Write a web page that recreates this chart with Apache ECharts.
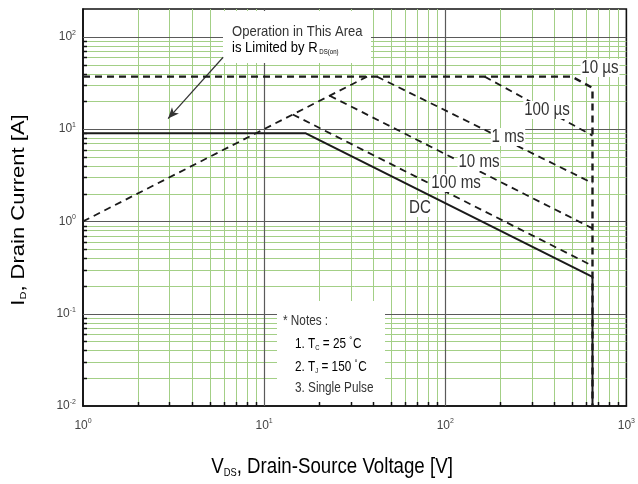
<!DOCTYPE html>
<html><head><meta charset="utf-8">
<script src="https://cdn.jsdelivr.net/npm/echarts@6/dist/echarts.min.js"></script>
<style>html,body{margin:0;padding:0;background:#fff}#c{width:638px;height:484px}</style>
</head><body><div id="c"></div>
<script>
// ---- data ----
const xDecades = [1, 10, 100, 1000];
const yDecades = [0.01, 0.1, 1, 10, 100];
const rdsLimit   = [[1, 1], [37, 37]];
const pulse10us  = [[1, 37], [500, 37], [650, 28], [650, 0.01]];
const pulse100us = [[165, 37], [650, 8.5]];
const pulse1ms   = [[42, 37], [650, 2.6]];
const pulse10ms  = [[23, 23], [650, 0.84]];
const pulse100ms = [[14.4, 14.4], [650, 0.33]];
const dcLine     = [[1, 9], [17, 9], [650, 0.25], [650, 0.01]];
const arrowFrom  = [5.94, 60];
const arrowTo    = [2.95, 13];
const curveNames = ['10 µs', '100 µs', '1 ms', '10 ms', '100 ms', 'DC'];

const FONT = "'Liberation Sans',Arial,sans-serif";
const SQ = 0.84; // horizontal squeeze of the reference lettering

function minorValues(decades, max) {
  const out = [];
  decades.forEach(d => { for (let k = 2; k <= 9; k++) { const v = d * k; if (v < max - 1e-9) out.push(+v.toPrecision(6)); } });
  return out;
}
const xMinor = minorValues(xDecades.slice(0, -1), 1000);
const yMinor = minorValues(yDecades, 200);
const xMajorInner = [10, 100];
const yMajorInner = [0.1, 1, 10, 100];

const chart = echarts.init(document.getElementById('c'), null, {renderer: 'canvas'});

function gridRender(params, api) {
  const cs = params.coordSys;
  const ch = [];
  const top = cs.y, bot = cs.y + cs.height, left = cs.x, right = cs.x + cs.width;
  const g = '#a3cf86', m = '#5a5a5a';
  xMinor.forEach(v => {
    const x = Math.round(api.coord([v, 1])[0]) + 0.5;
    ch.push({type: 'line', shape: {x1: x, y1: top, x2: x, y2: bot}, style: {stroke: g, lineWidth: 1}});
    ch.push({type: 'line', shape: {x1: x, y1: bot, x2: x, y2: bot - 4}, style: {stroke: '#111', lineWidth: 1.5}, z2: 5});
  });
  yMinor.forEach(v => {
    const y = Math.round(api.coord([1, v])[1]) + 0.5;
    ch.push({type: 'line', shape: {x1: left, y1: y, x2: right, y2: y}, style: {stroke: g, lineWidth: 1}});
    ch.push({type: 'line', shape: {x1: left, y1: y, x2: left + 4, y2: y}, style: {stroke: '#111', lineWidth: 1.5}, z2: 5});
  });
  xMajorInner.forEach(v => {
    const x = Math.round(api.coord([v, 1])[0]) + 0.5;
    ch.push({type: 'line', shape: {x1: x, y1: top, x2: x, y2: bot}, style: {stroke: m, lineWidth: 1.2}, z2: 2});
  });
  yMajorInner.forEach(v => {
    const y = Math.round(api.coord([1, v])[1]) + 0.5;
    ch.push({type: 'line', shape: {x1: left, y1: y, x2: right, y2: y}, style: {stroke: m, lineWidth: 1.2}, z2: 2});
  });
  return {type: 'group', children: ch};
}

function curve(data, dashed, width) {
  return {
    type: 'line', data, showSymbol: false, symbol: 'none', z: 5, silent: true,
    lineStyle: {color: '#1a1a1a', width: width, type: dashed ? [7, 5] : 'solid'}
  };
}

const tickFmt = v => '{b|10}{e|' + Math.round(Math.log10(v)) + '}';
const tickRich = {
  b: {fontSize: 12, fontFamily: FONT, color: '#444'},
  e: {fontSize: 7, fontFamily: FONT, color: '#444', padding: [0, 0, 8, 0]}
};

chart.setOption({
  animation: false,
  backgroundColor: '#fff',
  grid: {left: 83, top: 9, right: 11, bottom: 78, show: true, borderColor: '#111', borderWidth: 1.6, backgroundColor: 'transparent'},
  xAxis: {
    type: 'log', logBase: 10, min: 1, max: 1000,
    axisLine: {show: true, lineStyle: {color: '#111', width: 1.6}},
    axisTick: {show: false}, splitLine: {show: false},
    axisLabel: {formatter: tickFmt, rich: tickRich, margin: 12}
  },
  yAxis: {
    type: 'log', logBase: 10, min: 0.01, max: 200,
    axisLine: {show: true, lineStyle: {color: '#111', width: 1.6}},
    axisTick: {show: false}, splitLine: {show: false},
    axisLabel: {formatter: tickFmt, rich: tickRich, margin: 7, showMaxLabel: false}
  },
  series: [
    {type: 'custom', z: 1, silent: true, data: [[1, 1]], renderItem: gridRender},
    Object.assign(curve(rdsLimit, true, 1.8), {
      markLine: {
        silent: true, animation: false, symbol: ['none', 'arrow'], symbolSize: [7, 11],
        lineStyle: {color: '#333', width: 1.2, type: 'solid'}, label: {show: false},
        data: [[{coord: arrowFrom}, {coord: arrowTo}]]
      }
    }),
    curve(pulse10us, true, 2.4),
    curve(pulse100us, true, 1.8),
    curve(pulse1ms, true, 1.8),
    curve(pulse10ms, true, 1.8),
    curve(pulse100ms, true, 1.8),
    curve(dcLine, false, 2)
  ]
});

// annotations (text boxes, labels, titles)
const lbl = (text, x, y) => ({
  type: 'text', x, y, z: 20, scaleX: SQ,
  style: {text, font: '18px ' + FONT, fill: '#333', align: 'center', verticalAlign: 'middle',
          backgroundColor: '#fff', padding: [0, 1]}
});
const labelPix = [[600, 68], [547, 110], [508, 137], [479, 162], [456, 183], [420, 208]];
const noteRich = {
  a: {font: '14px ' + FONT, color: '#333'},
  s: {font: '7px ' + FONT, color: '#333', padding: [8, 0, 0, 0]},
  d: {font: '9px ' + FONT, color: '#333', padding: [0, 1, 6, 0]}
};
const gfx = [
  {type: 'rect', z: 2, shape: {x: 223, y: 11, width: 148, height: 52}, style: {fill: '#fff'}},
  {type: 'rect', z: 2, shape: {x: 277, y: 301, width: 108, height: 101}, style: {fill: '#fff'}},
  {type: 'text', z: 20, x: 232, y: 32, scaleX: 0.87, style: {text: 'Operation in This Area', font: '15px ' + FONT, fill: '#333', verticalAlign: 'middle'}},
  {type: 'text', z: 20, x: 232, y: 48, scaleX: 0.87, style: {
    text: '{a|is Limited by R}{s|DS(on)}', verticalAlign: 'middle',
    rich: {a: {font: '15px ' + FONT, color: '#333'}, s: {font: '7px ' + FONT, color: '#333', padding: [9, 0, 0, 2]}}}},
  {type: 'text', z: 20, x: 283, y: 321, scaleX: SQ, style: {text: '* Notes :', font: '14px ' + FONT, fill: '#333', verticalAlign: 'middle'}},
  {type: 'text', z: 20, x: 295, y: 344, scaleX: SQ, style: {text: '{a|1. T}{s|C}{a| = 25 }{d|°}{a|C}', verticalAlign: 'middle', rich: noteRich}},
  {type: 'text', z: 20, x: 295, y: 367, scaleX: SQ, style: {text: '{a|2. T}{s|J}{a| = 150 }{d|°}{a|C}', verticalAlign: 'middle', rich: noteRich}},
  {type: 'text', z: 20, x: 295, y: 388, scaleX: SQ, style: {text: '3. Single Pulse', font: '14px ' + FONT, fill: '#333', verticalAlign: 'middle'}},
  {type: 'text', z: 20, x: 332, y: 467, scaleX: 0.85, style: {
    text: '{a|V}{s|DS}{a|, Drain-Source Voltage [V]}', align: 'center', verticalAlign: 'middle',
    rich: {a: {font: '22px ' + FONT, color: '#1e1e1e'}, s: {font: '11px ' + FONT, color: '#1e1e1e', padding: [11, 0, 0, 0]}}}},
  {type: 'text', z: 20, x: 19, y: 210, rotation: Math.PI / 2, scaleY: 0.85, style: {
    text: '{a|I}{s|D}{a|, Drain Current [A]}', align: 'center', verticalAlign: 'middle',
    rich: {a: {font: '22px ' + FONT, color: '#1e1e1e'}, s: {font: '11px ' + FONT, color: '#1e1e1e', padding: [11, 0, 0, 0]}}}}
];
curveNames.forEach((n, i) => gfx.push(lbl(n, labelPix[i][0], labelPix[i][1])));
chart.setOption({graphic: gfx});
</script>
</body></html>
